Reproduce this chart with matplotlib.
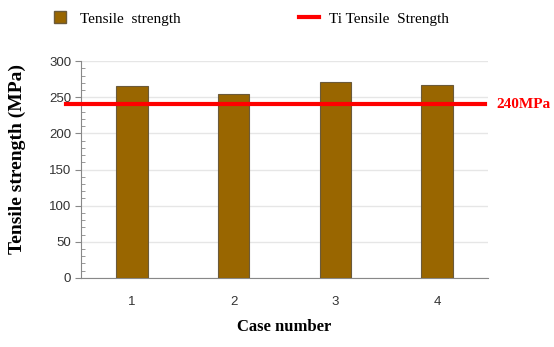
import matplotlib
matplotlib.use("Agg")
import matplotlib.pyplot as plt
import matplotlib.transforms as mtransforms
from matplotlib.lines import Line2D
import numpy as np

cases = ["1", "2", "3", "4"]
strength = [266, 254, 271, 267]
ti_strength = 240
y_ticks = [0, 50, 100, 150, 200, 250, 300]

serif = "Liberation Serif"
sans = "Liberation Sans"
bar_color = "#996600"

fig = plt.figure(figsize=(5.54, 3.47), dpi=100)
ax = fig.add_axes([0.146, 0.199, 0.735, 0.625])

x = np.arange(1, len(cases) + 1)
ax.bar(x, strength, width=0.31, color=bar_color, edgecolor="#6b5a3a", linewidth=0.8, zorder=3)

ax.set_xlim(0.5, 4.5)
ax.set_ylim(0, 300)
ax.set_xticks(x)
ax.set_xticklabels(cases, fontfamily=sans, fontsize=9.5, color="#333333")
ax.set_yticks(y_ticks)
ax.set_yticklabels([str(v) for v in y_ticks], fontfamily=sans, fontsize=9.5, color="#333333")
ax.set_yticks(np.arange(0, 301, 10), minor=True)
ax.tick_params(axis="x", length=0, pad=13)
ax.tick_params(axis="y", which="major", direction="out", length=4, color="#888888", pad=3)
ax.tick_params(axis="y", which="minor", direction="in", length=3, color="#888888")
ax.grid(axis="y", color="#e6e6e6", linewidth=1, zorder=0)

for spine in ["top", "right"]:
    ax.spines[spine].set_visible(False)
for spine in ["bottom", "left"]:
    ax.spines[spine].set_color("#888888")

# Ti reference line, running slightly past the y axis
trans = mtransforms.blended_transform_factory(ax.transAxes, ax.transData)
ax.plot([-0.037, 0.993], [ti_strength, ti_strength], color="red", linewidth=3,
        transform=trans, clip_on=False, zorder=4)
ax.text(1.02, ti_strength, "240MPa", transform=trans, color="red", fontfamily=serif,
        fontweight="bold", fontsize=11, va="center", ha="left")

ax.set_ylabel("Tensile strength (MPa)", fontfamily=serif, fontweight="bold", fontsize=14)
ax.yaxis.set_label_coords(-0.135, 0.55)
ax.set_xlabel("Case number", fontfamily=serif, fontweight="bold", fontsize=12, labelpad=8)

handles = [Line2D([0], [0], linestyle="none", marker="s", markersize=8, markerfacecolor=bar_color,
                  markeredgecolor="#6b5a3a", label="Tensile  strength"),
           Line2D([0], [0], color="red", linewidth=3, label="Ti Tensile  Strength")]
fig.legend(handles=handles, loc="upper left", bbox_to_anchor=(0.065, 1.005), ncol=2,
           frameon=False, prop={"family": serif, "size": 11}, columnspacing=7.8,
           handlelength=1.3, handletextpad=0.65)

fig.savefig("out.png", dpi=100)
